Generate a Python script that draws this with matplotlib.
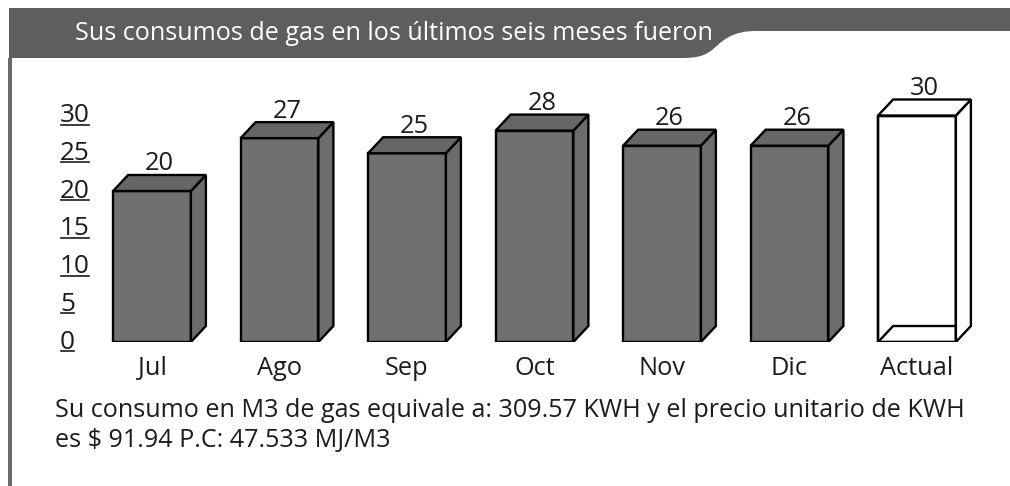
import matplotlib
matplotlib.use("Agg")
from matplotlib import pyplot as plt
from matplotlib import transforms
from matplotlib.lines import Line2D
from matplotlib.patches import PathPatch, Polygon, Rectangle
from matplotlib.path import Path

plt.rcParams['font.family'] = ['Open Sans', 'DejaVu Sans']

MESES = ['Jul', 'Ago', 'Sep', 'Oct', 'Nov', 'Dic', 'Actual']
CONSUMO = [20, 27, 25, 28, 26, 26, 30]
TICKS = [0, 5, 10, 15, 20, 25, 30]
TITULO = 'Sus consumos de gas en los últimos seis meses fueron'
NOTA = [
    'Su consumo en M3 de gas equivale a: 309.57 KWH y el precio unitario de KWH',
    r'es \$ 91.94 P.C: 47.533 MJ/M3',
]

W, H = 1010, 486
GRIS = '#5e5e5e'
TEXTO = '#1c1c1c'
PX_X = 127.5   # pixels per category step
PX_Y = 7.55    # pixels per unit
DEPTH = (15, 16)
BAR_W = 0.61
FS = 18.3

fig = plt.figure(figsize=(W / 100, H / 100), dpi=100)

# background layer in pixel coordinates (decoration only)
bg = fig.add_axes([0, 0, 1, 1])
bg.set_xlim(0, W)
bg.set_ylim(H, 0)
bg.axis('off')

verts = [(9, 8), (W, 8), (W, 31), (760, 31),
         (730, 30), (722, 42), (712, 50),
         (703, 57), (695, 58), (680, 58),
         (9, 58), (9, 8)]
codes = [Path.MOVETO, Path.LINETO, Path.LINETO, Path.LINETO,
         Path.CURVE4, Path.CURVE4, Path.CURVE4,
         Path.CURVE4, Path.CURVE4, Path.CURVE4,
         Path.LINETO, Path.CLOSEPOLY]
bg.add_patch(PathPatch(Path(verts, codes), facecolor=GRIS, edgecolor='none'))
bg.add_patch(Rectangle((8, 58), 4, H - 58, facecolor='#6b6b6b', edgecolor='none'))
bg.text(75, 33.5, TITULO, color='white', fontsize=18.1, va='center', ha='left')
bg.text(55, 410, NOTA[0], color=TEXTO, fontsize=18.1, va='center', ha='left')
bg.text(55, 440, NOTA[1], color=TEXTO, fontsize=18.1, va='center', ha='left')

# chart axes
left_px, right_px, base_px, top_px = 100, 980, 342, 90
ax = fig.add_axes([left_px / W, (H - base_px) / H,
                   (right_px - left_px) / W, (base_px - top_px) / H])
ax.set_xlim(-(152 - left_px) / PX_X, (right_px - 152) / PX_X)
ax.set_ylim(0, (base_px - top_px) / PX_Y)
ax.patch.set_alpha(0)
for s in ax.spines.values():
    s.set_visible(False)
ax.set_yticks([])

dx = DEPTH[0] / PX_X
dy = DEPTH[1] / PX_Y
lw = 1.7

for i, v in enumerate(CONSUMO):
    actual = MESES[i] == 'Actual'
    front = 'white' if actual else '#707070'
    top = 'white' if actual else '#666666'
    side = 'white' if actual else '#6c6c6c'
    x0, x1 = i - BAR_W / 2, i + BAR_W / 2
    ax.bar(i, v, width=BAR_W, color=front, edgecolor='black', linewidth=lw, zorder=2)
    if actual:
        ax.plot([x0, x0 + dx, x1 + dx], [0, dy, dy], color='black', lw=lw, zorder=2.5,
                solid_capstyle='butt')
        ax.bar(i, v, width=BAR_W, color='none', edgecolor='black', linewidth=lw, zorder=3)
    ax.add_patch(Polygon([(x1, 0), (x1 + dx, dy), (x1 + dx, v + dy), (x1, v)],
                         closed=True, facecolor=side, edgecolor='black', lw=lw, zorder=3))
    ax.add_patch(Polygon([(x0, v), (x1, v), (x1 + dx, v + dy), (x0 + dx, v + dy)],
                         closed=True, facecolor=top, edgecolor='black', lw=lw, zorder=3))
    ax.annotate(str(v), xy=(i + dx / 2, v + dy), xytext=(0, -1), textcoords='offset points',
                ha='center', va='bottom', fontsize=FS, color=TEXTO, annotation_clip=False)

ax.set_xticks(range(len(MESES)))
ax.set_xticklabels(MESES, fontsize=FS, color=TEXTO)
ax.tick_params(axis='x', length=0, pad=10)

# underlined y labels at the left
trans = transforms.blended_transform_factory(bg.transData, ax.transData)
labels = []
for t in TICKS:
    labels.append(bg.text(60, t, str(t), transform=trans, ha='left', va='center',
                          fontsize=FS + 0.5, color=TEXTO, clip_on=False))

fig.canvas.draw()
for t, lab in zip(TICKS, labels):
    bb = lab.get_window_extent()
    yd = ax.transData.transform((0, t))[1] - 9
    fig.add_artist(Line2D([bb.x0 + 1, bb.x1 - 1], [yd, yd], transform=transforms.IdentityTransform(),
                          color=TEXTO, lw=1.2))

fig.savefig('out.png', dpi=100)
